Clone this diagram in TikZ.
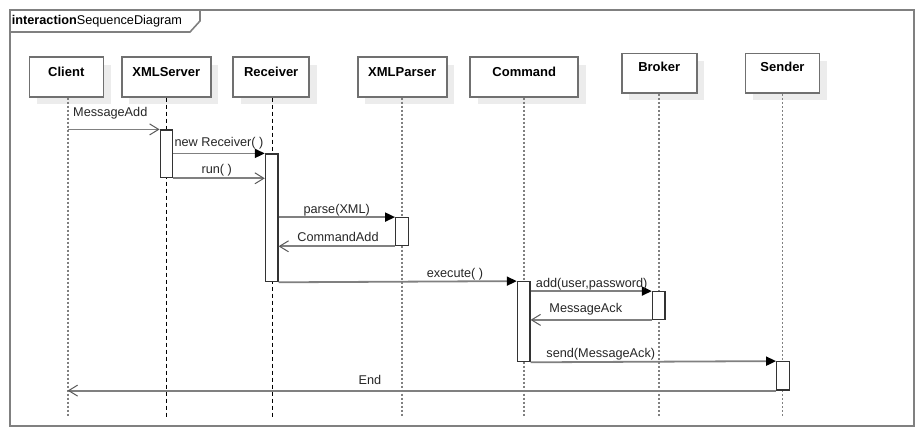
\documentclass[tikz,border=0pt]{standalone}
\usepackage{fontspec}
\setmainfont{Liberation Sans}
\usetikzlibrary{arrows.meta,shadows}
\definecolor{linegray}{RGB}{128,128,128}
\definecolor{boxgray}{RGB}{112,112,112}
\definecolor{shadowgray}{RGB}{236,236,236}
\tikzset{
  lifebox/.style={draw=boxgray, line width=1.6pt, fill=white, minimum height=39.5pt, inner sep=0pt,
    general shadow={fill=shadowgray, shadow xshift=7.3pt, shadow yshift=-7.3pt}},
  boxtitle/.style={font=\fontsize{13}{15}\selectfont\bfseries, inner sep=0pt},
  dotline/.style={draw=linegray, line width=1.6pt, dash pattern=on 2pt off 2pt},
  dashline/.style={draw=black, line width=0.7pt, dash pattern=on 4pt off 3pt},
  act/.style={draw=black!80, line width=1.2pt, fill=white, minimum width=12.6pt, inner sep=0pt},
  msg/.style={draw=linegray, line width=1.8pt},
  callmsg/.style={msg, -{Triangle[length=10pt,width=9pt,color=black]}},
  retmsg/.style={msg, -{Straight Barb[length=9pt,width=11pt,line width=1pt,color=linegray!70!black]}},
  lab/.style={font=\fontsize{12.7}{14}\selectfont, inner sep=0pt, text=black!85},
  frameline/.style={draw=linegray, line width=1.6pt}
}
\begin{document}
\begin{tikzpicture}[x=1pt,y=-1pt]
\useasboundingbox (0,0) rectangle (924,436);
% frame
\draw[frameline] (10,10) rectangle (914,426);
\draw[frameline] (10,32) -- (190,32) -- (200,21) -- (200,10);
\node[lab, anchor=west, text=black] (title) at (11.7,21.5) {\textbf{interaction}SequenceDiagram};

% lifeline heads
\node[lifebox, minimum width=74pt] (client) at (66.3,77) {};
\node[lifebox, minimum width=89pt] (xmlserver) at (166.3,77) {};
\node[lifebox, minimum width=76pt] (receiver) at (271.2,77) {};
\node[lifebox, minimum width=89pt] (xmlparser) at (402.2,77) {};
\node[lifebox, minimum width=108pt] (command) at (524.2,77) {};
\node[lifebox, minimum width=75pt] (broker) at (659.2,73.3) {};
\node[lifebox, minimum width=74pt] (sender) at (782.5,73.3) {};

\node[boxtitle] (tclient) at ([yshift=5.3pt]client.center) {Client};
\node[boxtitle] (txmlserver) at ([yshift=5.3pt]xmlserver.center) {XMLServer};
\node[boxtitle] (treceiver) at ([yshift=5.3pt]receiver.center) {Receiver};
\node[boxtitle] (txmlparser) at ([yshift=5.3pt]xmlparser.center) {XMLParser};
\node[boxtitle] (tcommand) at ([yshift=5.3pt]command.center) {Command};
\node[boxtitle] (tbroker) at ([yshift=6.3pt]broker.center) {Broker};
\node[boxtitle] (tsender) at ([yshift=6.3pt]sender.center) {Sender};

% lifeline ends
\coordinate (eclient) at (client.south |- 0,417);
\coordinate (exmlserver) at (xmlserver.south |- 0,417);
\coordinate (ereceiver) at ([xshift=1.5pt]receiver.south |- 0,417);
\coordinate (exmlparser) at (xmlparser.south |- 0,417);
\coordinate (ecommand) at (command.south |- 0,417);
\coordinate (ebroker) at (broker.south |- 0,417);
\coordinate (esender) at (sender.south |- 0,417);

\draw[dotline] ([xshift=1.4pt]client.south) -- ([xshift=1.4pt]eclient);
\draw[dashline] (xmlserver.south) -- (exmlserver);
\draw[dashline] ([xshift=1.5pt]receiver.south) -- (ereceiver);
\draw[dotline] (xmlparser.south) -- (exmlparser);
\draw[dotline] (command.south) -- (ecommand);
\draw[dotline] (broker.south) -- (ebroker);
\draw[dotline] (sender.south) -- (esender);

% activations
\node[act, minimum height=47.7pt] (a1) at (166.5,153.85) {};
\node[act, minimum height=127.7pt] (a2) at (271.7,217.85) {};
\node[act, minimum height=28pt] (a3) at (402,231.7) {};
\node[act, minimum height=80pt] (a4) at (523.7,321.7) {};
\node[act, minimum height=27.6pt] (a5) at (658.7,305.5) {};
\node[act, minimum height=28.3pt] (a6) at (783,375.85) {};

% messages
\draw[retmsg] ([xshift=1.4pt]client.south |- a1.north) -- (a1.north west);
\node[lab, anchor=west] (l1) at (73,113) {MessageAdd};

\draw[callmsg] (a1.east |- a2.north) -- (a2.north west);
\node[lab] (l2) at (219,143) {new Receiver( )};

\draw[retmsg] (a1.south east) -- (a2.west |- a1.south);
\node[lab] (l3) at (216.7,170.5) {run( )};

\draw[callmsg] (a2.east |- a3.north) -- (a3.north west);
\node[lab] (l4) at (336.7,210.5) {parse(XML)};

\draw[retmsg] (a3.south west) -- (a2.east |- a3.south);
\node[lab] (l5) at (338,237) {CommandAdd};

\draw[callmsg] (a2.south east) -- (a4.north west);
\node[lab] (l6) at (455,274.5) {execute( )};

\draw[callmsg] (a4.east |- a5.north) -- (a5.north west);
\node[lab] (l7) at (591.7,284.5) {add(user,password)};

\draw[retmsg] (a5.south west) -- (a4.east |- a5.south);
\node[lab] (l8) at (585.8,309) {MessageAck};

\draw[callmsg] (a4.south east) -- (a6.north west);
\node[lab] (l9) at (600.8,354.5) {send(MessageAck)};

\draw[retmsg] (a6.south west) -- ([xshift=1.4pt]client.south |- a6.south);
\node[lab] (l10) at (370,380) {End};
\end{tikzpicture}
\end{document}
